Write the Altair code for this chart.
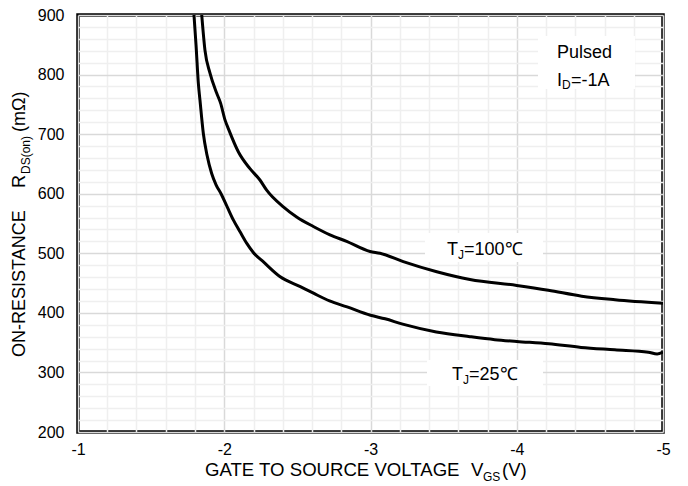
import altair as alt
import pandas as pd

# ---- data ----
vgs_25 = [-1.793, -1.807, -1.823, -1.834, -1.857, -1.882, -1.914, -1.944, -1.978, -2.02, -2.062,
          -2.108, -2.153, -2.20, -2.27, -2.38, -2.52, -2.61, -2.72, -2.84, -3.00, -3.10, -3.22,
          -3.45, -3.68, -3.85, -4.00, -4.22, -4.44, -4.67, -4.90, -4.96, -5.00]
r_25 = [900, 850, 785, 757, 701, 665, 634, 615, 600, 578, 556,
        536, 517, 501, 485, 461, 444, 433, 420, 410, 396, 390, 381,
        368, 360, 355, 352, 348, 342, 338, 334, 331, 334]

vgs_100 = [-1.846, -1.868, -1.903, -1.948, -1.975, -2.005, -2.03, -2.097, -2.176, -2.244, -2.29,
           -2.404, -2.495, -2.609, -2.723, -2.837, -2.997, -3.065, -3.224, -3.453, -3.68,
           -4.00, -4.216, -4.444, -4.672, -5.00]
r_100 = [900, 841, 802, 769, 752, 724, 708, 670, 642, 623, 606,
         578, 561, 545, 531, 520, 503, 500, 486, 469, 456,
         446, 438, 428, 422, 416]

x_grid_values = [-1.0, -1.2, -1.4, -1.6, -1.8, -2.0, -2.2, -2.4, -2.6, -2.8, -3.0,
                 -3.2, -3.4, -3.6, -3.8, -4.0, -4.2, -4.4, -4.6, -4.8, -5.0]
y_grid_values = [200, 220, 240, 260, 280, 300, 320, 340, 360, 380, 400, 420, 440, 460, 480,
                 500, 520, 540, 560, 580, 600, 620, 640, 660, 680, 700, 720, 740, 760, 780,
                 800, 820, 840, 860, 880, 900]

df = pd.concat([
    pd.DataFrame({"vgs": vgs_25, "r": r_25, "tj": "25"}),
    pd.DataFrame({"vgs": vgs_100, "r": r_100, "tj": "100"}),
])

FONT = "Liberation Sans"
one = pd.DataFrame({"k": [0]})

major_x = "abs(datum.value - round(datum.value)) < 0.001"
major_y = "datum.value % 100 === 0"

lines = alt.Chart(df).mark_line(color="black", strokeWidth=3, clip=True,
                                interpolate="monotone").encode(
    x=alt.X("vgs:Q",
            scale=alt.Scale(domain=[-5, -1], reverse=True, nice=False, zero=False),
            axis=alt.Axis(values=x_grid_values, title=None, ticks=False, domain=False,
                          labelExpr=f"{major_x} ? '' + round(datum.value) : ''",
                          labelFont=FONT, labelFontSize=16, labelColor="black",
                          labelPadding=9, labelFlush=False, labelOverlap=False,
                          gridColor={"condition": {"test": major_x, "value": "#d9d9d9"},
                                     "value": "#efefef"},
                          gridWidth=1.5)),
    y=alt.Y("r:Q",
            scale=alt.Scale(domain=[200, 900], nice=False, zero=False),
            axis=alt.Axis(values=y_grid_values, title=None, ticks=False, domain=False,
                          labelExpr=f"{major_y} ? '' + datum.value : ''",
                          labelFont=FONT, labelFontSize=16, labelColor="black",
                          labelPadding=14, labelOverlap=False,
                          gridColor={"condition": {"test": major_y, "value": "#d9d9d9"},
                                     "value": "#efefef"},
                          gridWidth=1.5)),
    detail="tj:N",
    order=alt.Order("vgs:Q", sort="descending"),
)


def box(x, x2, y, y2):
    return alt.Chart(one).mark_rect(fill="white").encode(
        x=alt.value(x), x2=alt.value(x2), y=alt.value(y), y2=alt.value(y2))


def txt(s, x, y, size=18, angle=0):
    props = dict(text=s, font=FONT, fontSize=size, color="black",
                 align="left", baseline="alphabetic")
    if angle:
        props["angle"] = angle
    return alt.Chart(one).mark_text(**props).encode(x=alt.value(x), y=alt.value(y))


layers = [
    box(460, 557, 21, 74),
    box(347, 465, 218, 247),
    box(349, 465, 345, 371),
    lines,
    txt("Pulsed", 479, 43),
    txt("I", 479, 71),
    txt("D", 484, 74, size=12),
    txt("=-1A", 493, 71),
    txt("T", 369, 240),
    txt("J", 380, 244, size=12),
    txt("=100℃", 386, 240),
    txt("T", 374, 365),
    txt("J", 385, 369, size=12),
    txt("=25℃", 391, 365),
    # x axis title
    txt("GATE TO SOURCE VOLTAGE", 127, 461, size=18.6),
    txt("V", 393, 461, size=18.6),
    txt("GS", 405, 466, size=12),
    txt("(V)", 424, 461, size=18.6),
    # y axis title
    txt("ON-RESISTANCE", -53, 342, angle=270),
    txt("R", -53, 173, angle=270),
    txt("DS(on)", -48, 159, size=12, angle=270),
    txt("(mΩ)", -53, 117, angle=270),
]

chart = alt.layer(*layers).properties(
    width=585, height=417,
    autosize=alt.AutoSizeParams(type="none"),
    padding={"left": 70, "top": 7, "right": 17, "bottom": 52},
).configure_view(stroke="black", strokeWidth=3.5)

chart.save("out.html", embed_options={"renderer": "svg", "actions": False})
